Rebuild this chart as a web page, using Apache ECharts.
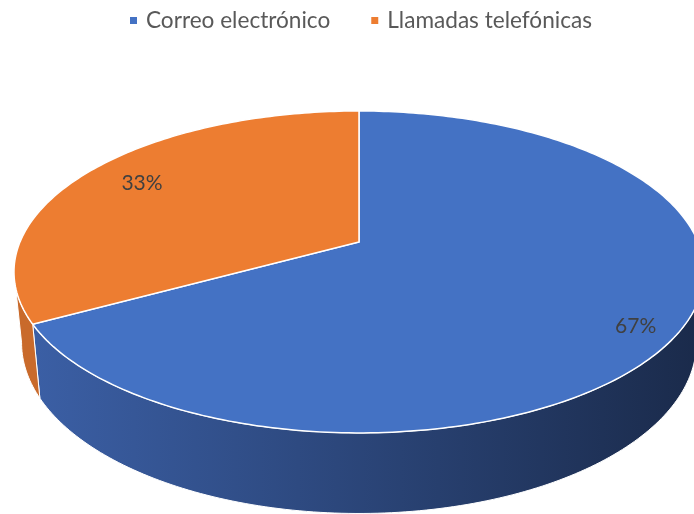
<!DOCTYPE html>
<html>
<head>
<meta charset="utf-8">
<script src="https://cdn.jsdelivr.net/npm/echarts@6/dist/echarts.min.js"></script>
<style>
  html, body { margin: 0; padding: 0; background: #fff; }
  #chart { width: 694px; height: 514px; }
</style>
</head>
<body>
<div id="chart"></div>
<script>
const categories = ['Correo electrónico', 'Llamadas telefónicas'];
const values = [67, 33];
const colors = ['#4472C4', '#ED7D31'];

// 3d projection of the pie (screen pixels)
const CX = 359, CY = 242;
const SX = 339, SY = 155.4;
const RHO = 0.186;          // perspective strength
const DEPTH = 69;           // thickness of the pie
const BOTTOM_SCALE = 0.978; // bottom face a bit smaller (looking down)
const LABEL_R = [0.87, 0.8];
const SIDE_FILL = [
  { type: 'linear', x: 0, y: 0, x2: 1, y2: 0, colorStops: [
    { offset: 0, color: '#3b5fa5' }, { offset: 1, color: '#1a2a4a' }] },
  '#c96a2b'
];

const total = values.reduce((a, b) => a + b, 0);
const rad = (d) => d * Math.PI / 180;
const SIL = 90 + Math.asin(RHO) * 180 / Math.PI; // silhouette angle

// theta: degrees clockwise from the far point (12 o'clock)
function proj(theta, r, bottom) {
  const x = Math.sin(rad(theta)) * r;
  const z = Math.cos(rad(theta)) * r;
  const k = 1 / (1 + RHO * z);
  const b = bottom ? BOTTOM_SCALE : 1;
  return [CX + SX * b * x * k, CY + (bottom ? DEPTH * k : 0) - SY * b * z * k];
}

function arc(a0, a1, bottom) {
  const pts = [];
  const n = Math.max(2, Math.ceil(Math.abs(a1 - a0)));
  for (let i = 0; i <= n; i++) pts.push(proj(a0 + (a1 - a0) * i / n, 1, bottom));
  return pts;
}

function renderSlice(params, api) {
  const idx = params.seriesIndex;
  let start = 0;
  for (let i = 0; i < idx; i++) start += values[i];
  const a0 = start / total * 360;
  const a1 = (start + api.value(0)) / total * 360;
  const children = [];

  // visible outer wall
  const s0 = Math.max(a0, SIL), s1 = Math.min(a1, 360 - SIL);
  if (s1 > s0) {
    const pts = arc(s0, s1, false).concat(arc(s1, s0, true));
    children.push({
      type: 'polygon',
      shape: { points: pts },
      style: { fill: SIDE_FILL[idx], stroke: '#fff', lineWidth: 1 }
    });
  }

  // top face
  children.push({
    type: 'polygon',
    shape: { points: [[CX, CY]].concat(arc(a0, a1, false)) },
    style: { fill: colors[idx], stroke: '#fff', lineWidth: 1.5 }
  });

  const mid = (a0 + a1) / 2;
  const lp = proj(mid, LABEL_R[idx], false);
  children.push({
    type: 'text',
    x: lp[0], y: lp[1] + (idx === 0 ? 9 : 0),
    style: {
      text: Math.round(api.value(0) / total * 100) + '%',
      fill: '#404040',
      fontSize: 21,
      fontFamily: 'Lato',
      align: 'center',
      verticalAlign: 'middle'
    }
  });
  return { type: 'group', children: children };
}

const chart = echarts.init(document.getElementById('chart'));
chart.setOption({
  animation: false,
  legend: {
    top: 9,
    left: 130,
    padding: 0,
    icon: 'path://M0,0h7v7h-7z',
    itemWidth: 15,
    itemHeight: 7,
    itemGap: 41,
    textStyle: { fontSize: 22.6, color: '#595959', fontFamily: 'Lato' },
    data: categories
  },
  series: categories.map((name, i) => ({
    type: 'custom',
    name: name,
    coordinateSystem: 'none',
    itemStyle: { color: colors[i] },
    renderItem: renderSlice,
    data: [[values[i]]]
  }))
});
</script>
</body>
</html>
